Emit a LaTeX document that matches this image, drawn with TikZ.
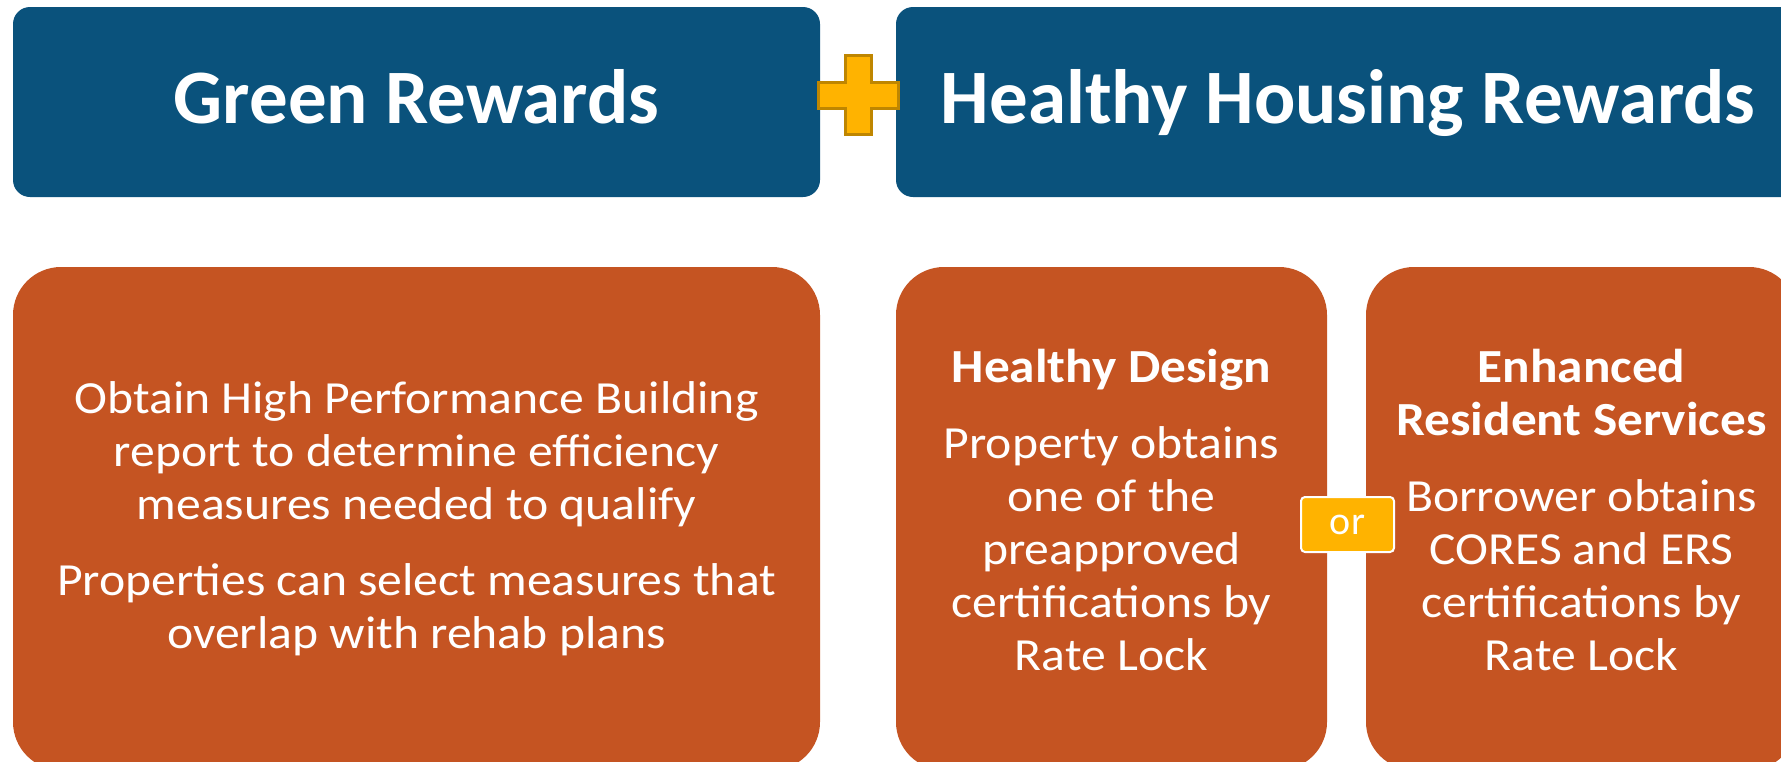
\documentclass[tikz,border=0pt]{standalone}
\usepackage{fontspec}
\setmainfont{Carlito}
\newfontfamily\cardfont{Carlito}[FakeStretch=1.08]
\usetikzlibrary{positioning}

\definecolor{rewardblue}{HTML}{0A527C}
\definecolor{rewardorange}{HTML}{C55422}
\definecolor{plusyellow}{HTML}{FFB300}
\definecolor{plusedge}{HTML}{BF8600}

\newcommand\cardhead[1]{{\fontsize{47.5}{53}\selectfont\bfseries #1}}

\tikzset{
  titlebox/.style={rectangle, rounded corners=17pt, fill=rewardblue, text=white,
    font=\fontsize{77}{90}\selectfont\bfseries, minimum height=190pt,
    inner sep=0pt, text height=50pt, text depth=8pt},
  cardbox/.style={rectangle, rounded corners=48pt, fill=rewardorange,
    minimum height=503pt, inner sep=0pt},
  cardtext/.style={text=white, font=\cardfont\fontsize{46}{53}\selectfont, align=center, inner sep=0pt},
  orbox/.style={rectangle, rounded corners=4pt, fill=plusyellow, draw=white, line width=2pt,
    minimum width=93pt, minimum height=55pt, text=white, font=\fontsize{40}{48}\selectfont}
}

\begin{document}
\begin{tikzpicture}[x=1pt, y=-1pt]
  \useasboundingbox (0,0) rectangle (1781,761);

  % headers
  \node[titlebox, minimum width=807pt] (green) at (416.5,102) {Green Rewards};
  \node[titlebox, minimum width=904pt] (healthy) at (1348,102) {Healthy Housing Rewards};

  % plus sign between the headers
  \draw[fill=plusyellow, draw=plusedge, line width=3pt]
    (845,55) -- (871,55) -- (871,82) -- (898,82) -- (898,108) -- (871,108)
    -- (871,134) -- (845,134) -- (845,108) -- (818,108) -- (818,82) -- (845,82) -- cycle;

  % cards
  \node[cardbox, minimum width=807pt] (greencard) at (416.5,518.5) {};
  \node[cardbox, minimum width=431pt] (designcard) at (1111.5,518.5) {};
  \node[cardbox, minimum width=431pt] (servicecard) at (1581.5,518.5) {};

  \node[cardtext, below=115pt of greencard.north] (greentext)
    {Obtain High Performance Building\\ report to determine efficiency\\ measures needed to qualify\\[23pt]
     Properties can select measures that\\ overlap with rehab plans};
  \node[cardtext, below=82pt of designcard.north] (designtext)
    {\cardhead{Healthy Design}\\[23pt] Property obtains\\ one of the\\ preapproved\\ certifications by\\ Rate Lock};
  \node[cardtext, below=82pt of servicecard.north] (servicetext)
    {\cardhead{Enhanced}\\ \cardhead{Resident Services}\\[23pt] Borrower obtains\\ CORES and ERS\\ certifications by\\ Rate Lock};

  \node[orbox] (orlabel) at (1347.5,524.5) {or};
\end{tikzpicture}
\end{document}
